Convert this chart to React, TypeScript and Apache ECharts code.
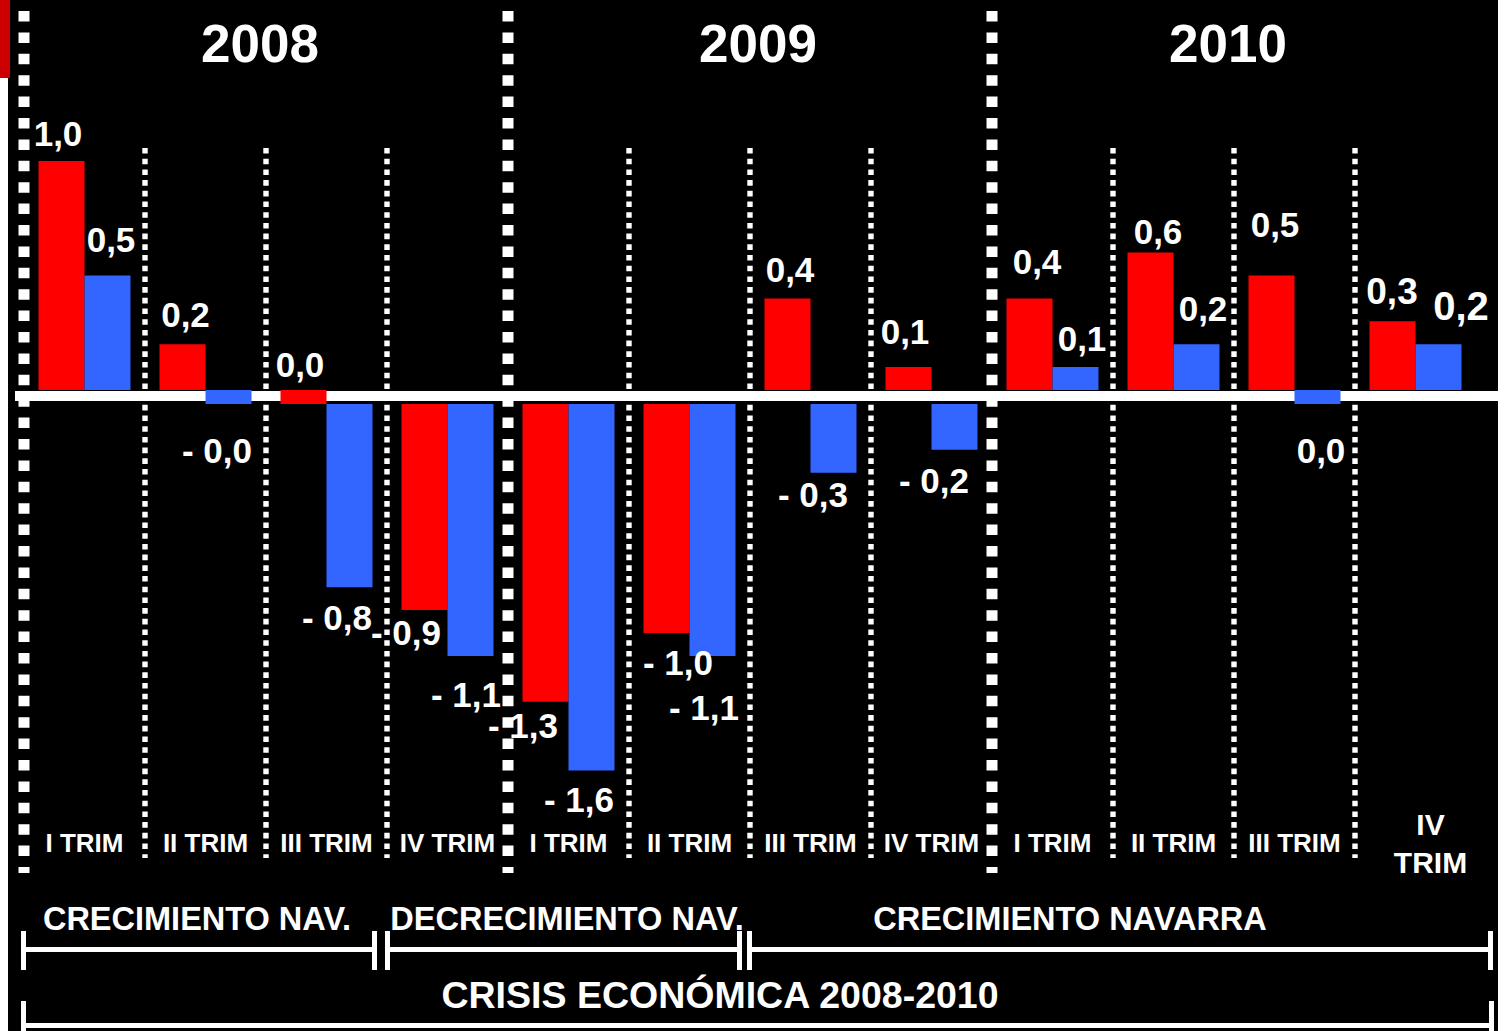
import React, { useEffect, useRef } from "react";
import * as echarts from "echarts";

// ---- data ----
const categories = [
  "I TRIM", "II TRIM", "III TRIM", "IV TRIM",
  "I TRIM", "II TRIM", "III TRIM", "IV TRIM",
  "I TRIM", "II TRIM", "III TRIM", "IV\nTRIM",
];
const years = ["2008", "2009", "2010"];
const navarra = [1.0, 0.2, 0.0, -0.9, -1.3, -1.0, 0.4, 0.1, 0.4, 0.6, 0.5, 0.3];
const espana = [0.5, -0.04, -0.8, -1.1, -1.6, -1.1, -0.3, -0.2, 0.1, 0.2, 0.0, 0.2];
const phases = ["CRECIMIENTO NAV.", "DECRECIMIENTO NAV.", "CRECIMIENTO NAVARRA"];
const period = "CRISIS ECONÓMICA 2008-2010";

// ---- label placement (styling, not data) ----
type Place = { pos: string; off: number[]; size?: number };
const placeNavarra: Place[] = [
  { pos: "top", off: [-3.5, -10.5] },
  { pos: "top", off: [3, -12] },
  { pos: "top", off: [-3.5, -8] },
  { pos: "bottom", off: [-18.5, 5] },
  { pos: "bottom", off: [-22.5, 6] },
  { pos: "bottom", off: [11.5, 12] },
  { pos: "top", off: [2.5, -11.5] },
  { pos: "top", off: [-3.5, -18.5] },
  { pos: "top", off: [7.5, -19.5] },
  { pos: "top", off: [7.5, -3.5] },
  { pos: "top", off: [3.5, -33.5] },
  { pos: "top", off: [-0.5, -11.5], size: 37 },
];
const placeEspana: Place[] = [
  { pos: "top", off: [3.5, -18.5] },
  { pos: "bottom", off: [-11.5, 29] },
  { pos: "bottom", off: [-12.5, 12.5] },
  { pos: "bottom", off: [-4.5, 21] },
  { pos: "bottom", off: [-12.5, 12] },
  { pos: "bottom", off: [-8.5, 34.5] },
  { pos: "bottom", off: [-20.5, 4.5] },
  { pos: "bottom", off: [-20.5, 13.5] },
  { pos: "top", off: [6.5, -11.5] },
  { pos: "top", off: [6.5, -18.5] },
  { pos: "bottom", off: [3.5, 29] },
  { pos: "top", off: [22.5, -18.5], size: 40 },
];

const RED = "#ff0000";
const BLUE = "#3366ff";
const FONT = "'Liberation Sans', Arial, sans-serif";
const GAP = 14 / 229; // visual gap under the zero band, in value units
const ZERO_EPS = 0.05;

function fmt(v: number): string {
  return (v < 0 ? "- " : "") + Math.abs(v).toFixed(1).replace(".", ",");
}

function labelFor(values: number[], place: Place[], i: number) {
  const p = place[i];
  return {
    show: true,
    position: p.pos,
    distance: 0,
    offset: p.off,
    fontSize: p.size || 35,
    formatter: () => fmt(values[i]),
  };
}

function buildStack(values: number[], place: Place[], color: string, name: string, stack: string) {
  const base = values.map((v, i) => {
    if (Math.abs(v) < ZERO_EPS) {
      return { value: -GAP, itemStyle: { color }, label: labelFor(values, place, i) };
    }
    if (v < 0) return { value: -GAP, itemStyle: { color: "rgba(0,0,0,0)" } };
    return "-";
  });
  const vals = values.map((v, i) => {
    if (Math.abs(v) < ZERO_EPS) return "-";
    return { value: v, label: labelFor(values, place, i) };
  });
  const common = {
    type: "bar",
    stack,
    barWidth: 46,
    barGap: "0%",
    label: { show: false, color: "#fff", fontWeight: "bold", fontFamily: FONT, fontSize: 35 },
  };
  return [
    { ...common, name: name + " base", data: base, silent: true },
    { ...common, name, data: vals, itemStyle: { color } },
  ];
}

export default function App() {
  const ref = useRef<HTMLDivElement>(null);
  useEffect(() => {
    document.body.style.margin = "0";
    if (!ref.current) return;
    const chart = echarts.init(ref.current, null, { renderer: "svg" });
    const option: any = {
      animation: false,
      backgroundColor: "#ffffff",
      grid: { left: 24, width: 1452, top: 46.5, height: 778.6, containLabel: false },
      xAxis: {
        type: "category",
        data: categories.map((c, i) =>
          i === categories.length - 1
            ? {
                value: c,
                textStyle: {
                  padding: [0, 0, 0, 30],
                  verticalAlign: "middle",
                  align: "center",
                  lineHeight: 38,
                  fontSize: 30,
                  fontWeight: "bold",
                  fontFamily: FONT,
                  color: "#fff",
                },
              }
            : c
        ),
        axisLine: { show: false },
        axisTick: { show: false },
        splitLine: { show: false },
        axisLabel: {
          interval: 0,
          color: "#fff",
          fontSize: 26,
          fontWeight: "bold",
          fontFamily: FONT,
          margin: 18,
          verticalAlign: "middle",
          lineHeight: 38,
        },
      },
      yAxis: {
        type: "value",
        min: -1.9,
        max: 1.5,
        show: false,
        splitLine: { show: false },
      },
      series: [
        ...buildStack(navarra, placeNavarra, RED, "Navarra", "nav"),
        ...buildStack(espana, placeEspana, BLUE, "España", "esp"),
      ],
    };
    chart.setOption(option);

    const c0 = chart.convertToPixel({ xAxisIndex: 0 }, 0) as number;
    const c1 = chart.convertToPixel({ xAxisIndex: 0 }, 1) as number;
    const band = c1 - c0;
    const boundary = (k: number) => c0 - band / 2 + k * band;
    const yZero = chart.convertToPixel({ yAxisIndex: 0 }, 0) as number;
    const yGap = chart.convertToPixel({ yAxisIndex: 0 }, -GAP) as number;
    const yLine = (yZero + yGap) / 2 - 1;

    const g: any[] = [];
    g.push({ type: "rect", shape: { x: 8, y: 0, width: 1490, height: 1031 }, style: { fill: "#000" } });
    g.push({ type: "rect", shape: { x: 0, y: 0, width: 10, height: 78 }, style: { fill: "#cc0000" } });
    // zero band
    g.push({
      type: "line",
      shape: { x1: 15, y1: yLine, x2: 1498, y2: yLine },
      style: { stroke: "#ffffff", lineWidth: 10 },
    });
    // separators
    for (let k = 0; k <= 11; k++) {
      const x = boundary(k);
      if (k % 4 === 0) {
        g.push({
          type: "line",
          shape: { x1: x, y1: 11, x2: x, y2: 873 },
          style: { stroke: "#fff", lineWidth: 11, lineDash: [10.5, 10.9], lineCap: "butt" },
        });
      } else {
        g.push({
          type: "line",
          shape: { x1: x, y1: 148, x2: x, y2: 858 },
          style: { stroke: "#fff", lineWidth: 5.4, lineDash: [5.6, 5.1], lineCap: "butt" },
        });
      }
    }
    // year titles
    const yearShift = [-6, 8, -6];
    years.forEach((y, j) => {
      g.push({
        type: "text",
        x: boundary(4 * j + 2) + yearShift[j],
        y: 43,
        style: {
          text: y,
          fill: "#fff",
          fontSize: 53,
          fontWeight: "bold",
          fontFamily: FONT,
          align: "center",
          verticalAlign: "middle",
        },
      });
    });
    // phase brackets
    const brackets = [
      [21, 377],
      [385, 742],
      [747, 1493],
    ];
    const phaseX = [197, 567, 1070];
    brackets.forEach(([a, b], j) => {
      g.push({ type: "rect", shape: { x: a, y: 931, width: 5, height: 39 }, style: { fill: "#fff" } });
      g.push({ type: "rect", shape: { x: b - 5, y: 931, width: 5, height: 39 }, style: { fill: "#fff" } });
      g.push({ type: "rect", shape: { x: a + 5, y: 947, width: b - a - 10, height: 5 }, style: { fill: "#fff" } });
      g.push({
        type: "text",
        x: phaseX[j],
        y: 919,
        style: {
          text: phases[j],
          fill: "#fff",
          fontSize: 32.5,
          fontWeight: "bold",
          fontFamily: FONT,
          align: "center",
          verticalAlign: "middle",
        },
      });
    });
    // crisis bracket
    g.push({ type: "rect", shape: { x: 21, y: 1001, width: 5, height: 30 }, style: { fill: "#fff" } });
    g.push({ type: "rect", shape: { x: 1489, y: 1001, width: 5, height: 30 }, style: { fill: "#fff" } });
    g.push({ type: "rect", shape: { x: 26, y: 1023, width: 1463, height: 5 }, style: { fill: "#fff" } });
    g.push({
      type: "text",
      x: 720,
      y: 995,
      style: {
        text: period,
        fill: "#fff",
        fontSize: 37.5,
        fontWeight: "bold",
        fontFamily: FONT,
        align: "center",
        verticalAlign: "middle",
      },
    });
    chart.setOption({ graphic: { elements: g } });
    return () => chart.dispose();
  }, []);
  return <div ref={ref} style={{ width: 1504, height: 1031 }} />;
}
